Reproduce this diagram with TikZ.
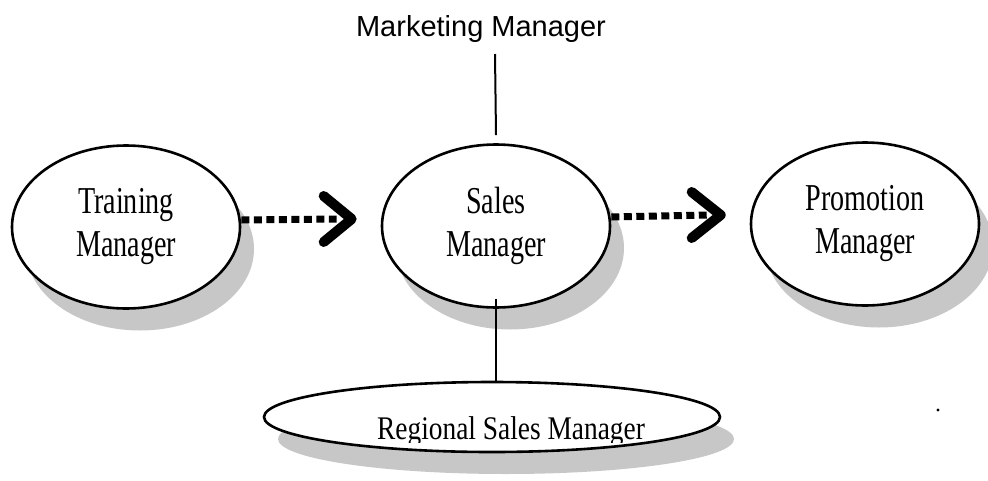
\documentclass[tikz,border=0pt]{standalone}
\usepackage{fontspec}
\setmainfont{Liberation Serif}
\newfontfamily\arialfont{Liberation Sans}
\usepackage{graphicx}
\usetikzlibrary{shapes.geometric,shadows,calc}
\newcommand{\cnd}[1]{\scalebox{0.74}[1]{#1}}
\begin{document}
\begin{tikzpicture}[x=1pt,y=-1pt,
  mgr/.style={ellipse, draw, line width=2.6pt, fill=white,
    minimum width=228pt, minimum height=163pt, inner sep=0pt, align=center,
    font=\fontsize{38}{43}\selectfont,
    drop shadow={shadow xshift=14pt, shadow yshift=-22pt, fill=black!22, opacity=1}},
  link/.style={line width=2pt},
  dotline/.style={line width=7pt, dash pattern=on 8pt off 4.5pt},
  chev/.style={line width=10pt, line cap=round, line join=round}]
\useasboundingbox (0,0) rectangle (988,480);

\node[mgr] (tm) at (126,227) {\cnd{Training}\\\cnd{Manager}};
\node[mgr] (sm) at (496,226) {\cnd{Sales}\\\cnd{Manager}};
\node[mgr] (pm) at (865,224) {\cnd{Promotion}\\\cnd{Manager}};
\node[mgr, minimum width=456pt, minimum height=70pt] (rsm) at (492,417) {};
\begin{scope}
  \clip (200,380) rectangle (800,442);
  \node[font=\fontsize{33}{33}\selectfont, anchor=base, inner sep=0pt] (rsmtext) at (511,439) {\scalebox{0.83}[1]{Regional Sales Manager}};
\end{scope}

\node[font=\arialfont\fontsize{29}{29}\selectfont, anchor=base, inner sep=0pt] (mm) at (481,36) {Marketing Manager};
\coordinate (mmtop) at (495,54);
\draw[link] (mmtop) -- ([yshift=8pt]sm.north);
\draw[link] ([yshift=10pt]sm.south) -- (sm.south |- rsm.north);

% arrow Training -> Sales
\draw[dotline] ([yshift=7pt]tm.east) -- ([yshift=7pt,xshift=-44pt]sm.west);
\draw[chev] ([xshift=-57pt,yshift=30pt]sm.west) -- ([xshift=-29pt,yshift=7pt]sm.west) -- ([xshift=-57pt,yshift=-16pt]sm.west);

% arrow Sales -> Promotion
\draw[dotline] ([yshift=9pt]sm.east) -- ([yshift=9pt,xshift=-43pt]pm.west);
\draw[chev] ([xshift=-58pt,yshift=32pt]pm.west) -- ([xshift=-29pt,yshift=9pt]pm.west) -- ([xshift=-58pt,yshift=-14pt]pm.west);

\fill (938,410) circle (1.6pt);
\end{tikzpicture}
\end{document}
